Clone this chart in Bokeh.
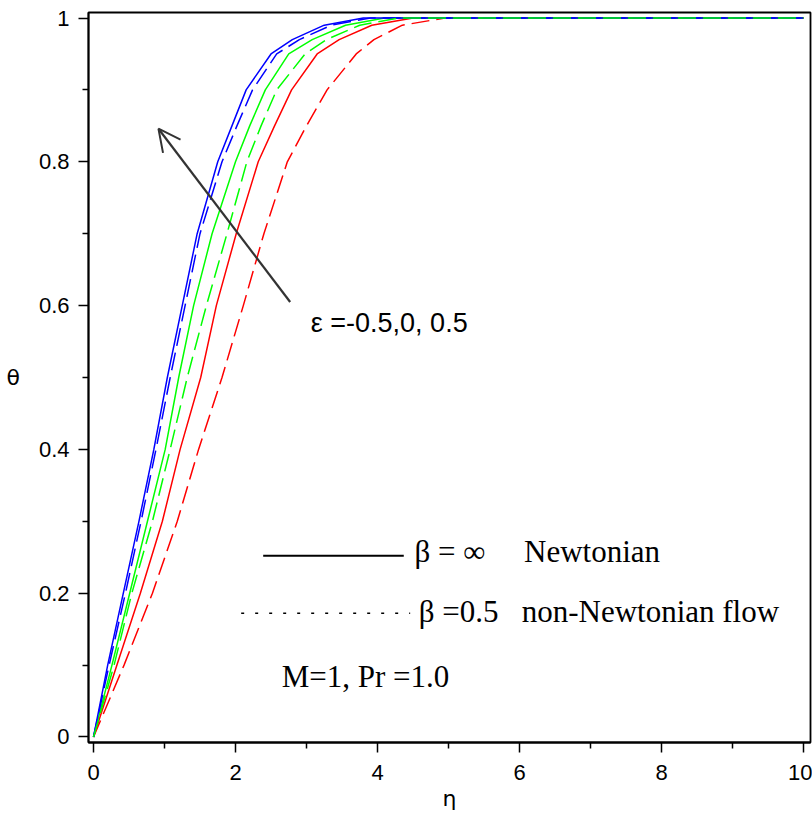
from bokeh.plotting import figure
from bokeh.models import Arrow, OpenHead, Label, FixedTicker, Range1d
from bokeh.embed import file_html
from bokeh.resources import INLINE

# ---- data (eta positions at given theta levels) ----
theta_levels     = [0, 0.1, 0.2, 0.3, 0.4, 0.5, 0.6, 0.7, 0.8, 0.85, 0.9, 0.95, 0.97, 0.99, 1.0, 1.0]
eta_blue_solid   = [0, 0.20, 0.42, 0.64, 0.85, 1.04, 1.25, 1.46, 1.75, 1.95, 2.15, 2.50, 2.80, 3.25, 3.80, 10]
eta_blue_dashed  = [0, 0.22, 0.45, 0.67, 0.88, 1.08, 1.29, 1.50, 1.81, 2.02, 2.24, 2.58, 2.90, 3.35, 3.90, 10]
eta_green_solid  = [0, 0.26, 0.51, 0.76, 1.01, 1.20, 1.41, 1.67, 2.00, 2.20, 2.42, 2.75, 3.08, 3.55, 4.10, 10]
eta_green_dashed = [0, 0.29, 0.54, 0.83, 1.08, 1.32, 1.59, 1.88, 2.16, 2.36, 2.58, 2.98, 3.28, 3.75, 4.30, 10]
eta_red_solid    = [0, 0.33, 0.66, 0.97, 1.22, 1.51, 1.73, 2.01, 2.32, 2.55, 2.79, 3.15, 3.46, 3.92, 4.50, 10]
eta_red_dashed   = [0, 0.43, 0.83, 1.18, 1.48, 1.81, 2.11, 2.40, 2.73, 3.00, 3.29, 3.70, 3.95, 4.35, 4.95, 10]

x_ticks = [0, 2, 4, 6, 8, 10]
x_minor = [1, 3, 5, 7, 9]
y_ticks = [0, 0.2, 0.4, 0.6, 0.8, 1.0]
y_minor = [0.1, 0.3, 0.5, 0.7, 0.9]

NB = "\u00a0"
eps_text = "ε =-0.5,0," + NB + "0.5"
leg1_text = "β" + NB + "=" + NB + "∞" + NB * 5 + "Newtonian"
leg2_text = "β" + NB + "=0.5" + NB * 3 + "non-Newtonian" + NB + "flow"
param_text = "M=1," + NB + "Pr" + NB + "=1.0"

# ---- figure ----
p = figure(width=812, height=819, output_backend="svg", toolbar_location=None,
           x_range=Range1d(-0.0704, 10.0986), y_range=Range1d(-0.00765, 1.00765),
           min_border_left=88, min_border_right=2, min_border_top=12, min_border_bottom=77)
p.background_fill_color = "white"
p.border_fill_color = "white"
p.grid.visible = False
p.outline_line_color = "black"
p.outline_line_width = 1.8

for ax in (p.xaxis[0], p.yaxis[0]):
    ax.axis_line_width = 1.8
    ax.major_tick_line_width = 1.5
    ax.minor_tick_line_width = 1.5
    ax.major_tick_out = 10
    ax.major_tick_in = 0
    ax.minor_tick_out = 6
    ax.minor_tick_in = 0
    ax.major_label_text_font = "Liberation Sans"
    ax.major_label_text_font_size = "22px"
    ax.major_label_text_color = "black"
    ax.axis_label_text_font = "DejaVu Sans"
    ax.axis_label_text_font_size = "22px"
    ax.axis_label_text_font_style = "normal"
    ax.axis_label_text_color = "black"

p.xaxis.ticker = FixedTicker(ticks=x_ticks, minor_ticks=x_minor)
p.yaxis.ticker = FixedTicker(ticks=y_ticks, minor_ticks=y_minor)
p.xaxis.major_label_standoff = 12
p.yaxis.major_label_standoff = 9
p.xaxis.major_label_overrides = {t: str(t) for t in x_ticks}
p.yaxis.major_label_overrides = {0: "0", 0.2: "0.2", 0.4: "0.4", 0.6: "0.6", 0.8: "0.8", 1.0: "1"}
p.xaxis.axis_label = "η"
p.xaxis.axis_label_standoff = 3
p.yaxis.axis_label = "θ"
p.yaxis.axis_label_orientation = "horizontal"
p.yaxis.axis_label_standoff = 16

dash = "18 7"
lw = 1.5
p.line(eta_red_dashed, theta_levels, line_color="#ff0000", line_width=lw, line_dash=dash)
p.line(eta_red_solid, theta_levels, line_color="#ff0000", line_width=lw)
p.line(eta_green_solid, theta_levels, line_color="#00ff00", line_width=lw)
p.line(eta_blue_solid, theta_levels, line_color="#0000ff", line_width=lw)
p.line(eta_blue_dashed, theta_levels, line_color="#0000ff", line_width=lw, line_dash=dash)
p.line(eta_green_dashed, theta_levels, line_color="#00ff00", line_width=lw, line_dash=dash)

# arrow
p.add_layout(Arrow(end=OpenHead(size=22, line_color="#333333", line_width=2),
                   x_start=2.77, y_start=0.605, x_end=0.915, y_end=0.846,
                   line_color="#333333", line_width=2.2))

serif = "Liberation Serif"
p.add_layout(Label(x=3.06, y=0.576, text=eps_text, text_font="Liberation Sans",
                   text_font_size="27px", text_color="black",
                   text_baseline="middle", text_align="left"))

# legend keys
p.line([2.39, 4.37], [0.252, 0.252], line_color="black", line_width=2)
p.line([2.08, 4.46], [0.172, 0.172], line_color="black", line_width=1.5, line_dash="3 11")
p.add_layout(Label(x=4.52, y=0.258, text=leg1_text, text_font=serif, text_color="black",
                   text_font_size="31px", text_baseline="middle", text_align="left"))
p.add_layout(Label(x=4.58, y=0.175, text=leg2_text, text_font=serif, text_color="black",
                   text_font_size="31px", text_baseline="middle", text_align="left"))
p.add_layout(Label(x=2.65, y=0.084, text=param_text, text_font=serif, text_color="black",
                   text_font_size="31px", text_baseline="middle", text_align="left"))

open("out.html", "w").write(file_html(p, INLINE))
